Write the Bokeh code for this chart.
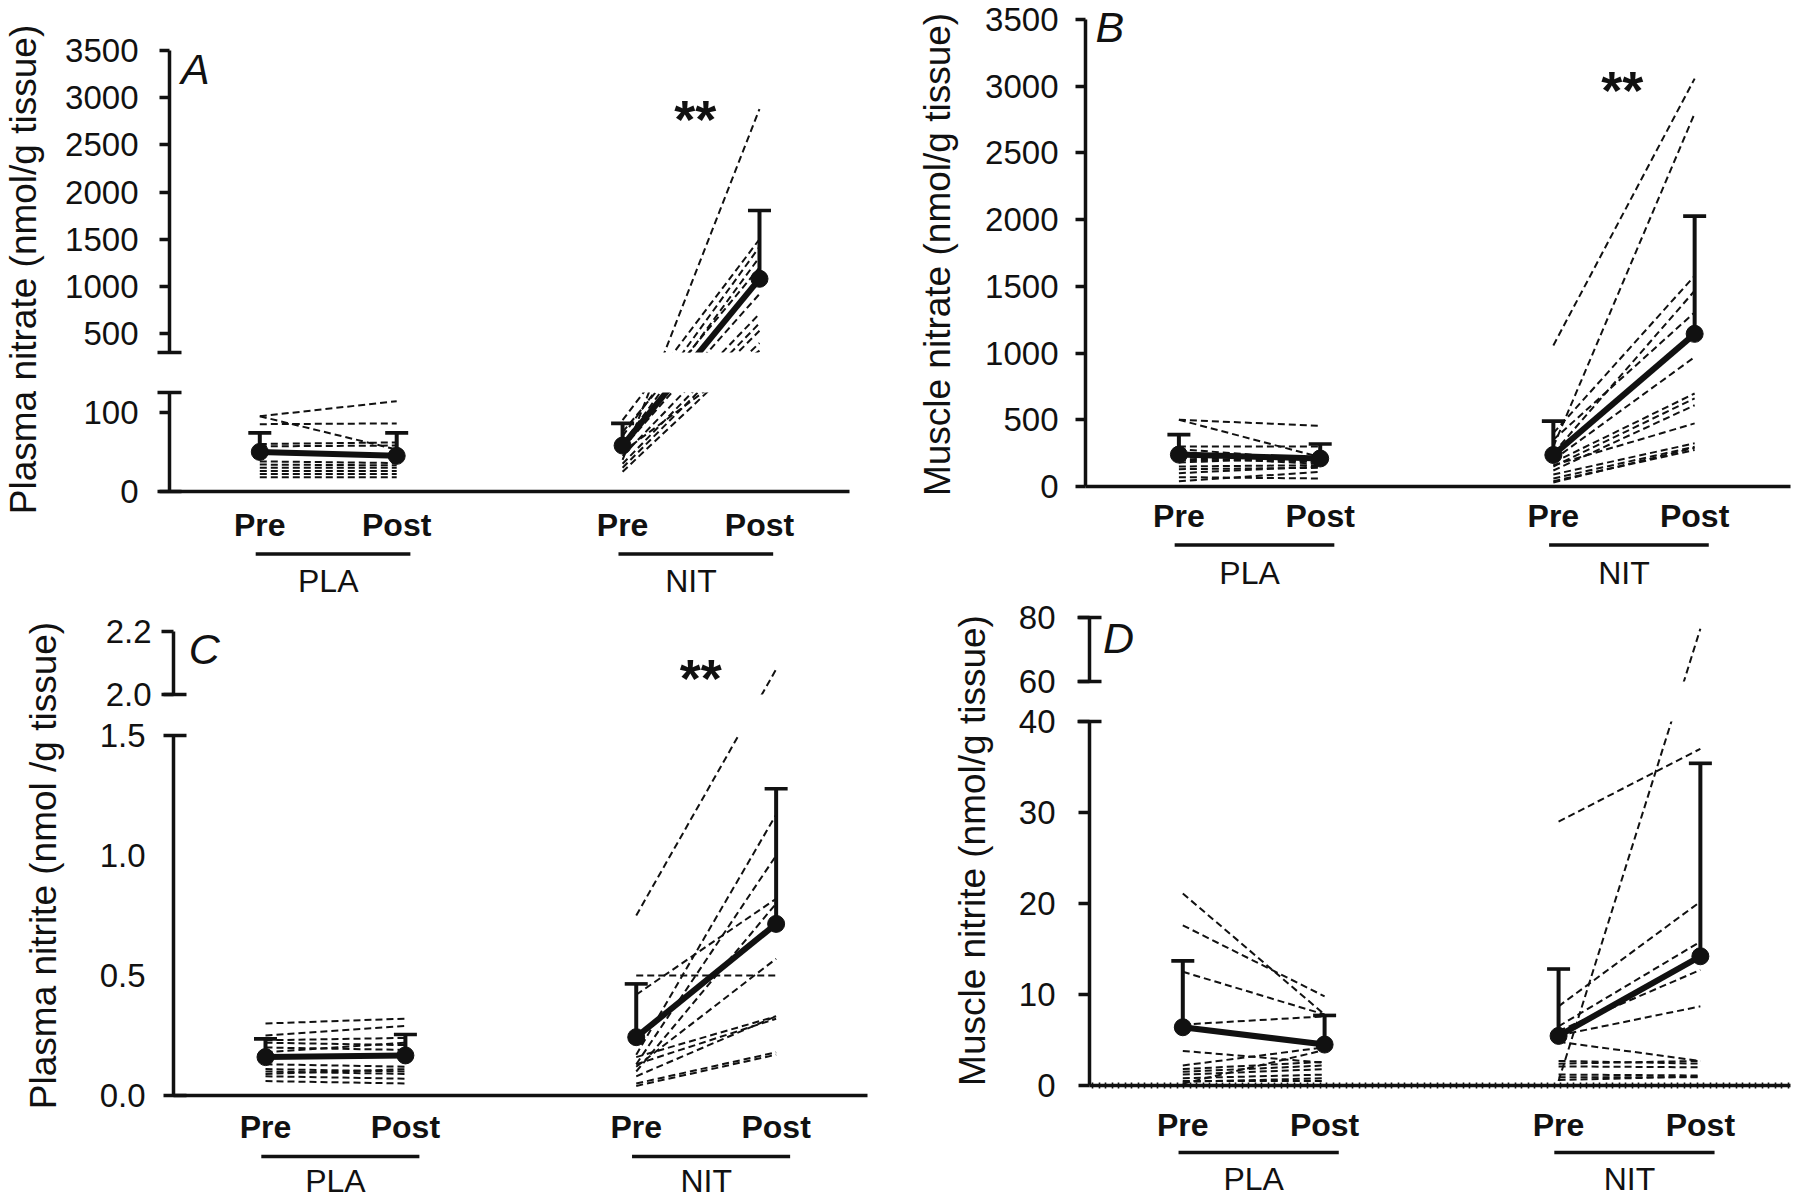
import math
import numpy as np
from bokeh.plotting import figure
from bokeh.layouts import row, column
from bokeh.models import Range1d, FixedTicker, NumeralTickFormatter, CustomJSTickFormatter
from bokeh.core.properties import value
from bokeh.embed import file_html
from bokeh.resources import INLINE

# ---------------- data ----------------
X_POS = [1.0, 2.0, 3.65, 4.65]
TIME_LABELS = ["Pre", "Post", "Pre", "Post"]
GROUPS = ["PLA", "NIT"]

# A: plasma nitrate
A_PLA_PRE = [95, 95, 85, 60, 57, 38, 34, 30, 26, 22, 18]
A_PLA_POST = [114, 53, 86, 62, 58, 36, 33, 30, 26, 22, 18]
A_PLA_MEAN = [50, 45]
A_PLA_SD = [24, 29]
A_NIT_PRE = [40, 90, 70, 60, 75, 55, 45, 35, 30, 25, 50]
A_NIT_POST = [2880, 1500, 1420, 1310, 1200, 920, 710, 610, 530, 400, 320]
A_NIT_MEAN = [58, 1081]
A_NIT_SD = [28, 723]

# B: muscle nitrate
B_PLA_PRE = [500, 500, 300, 280, 250, 220, 200, 180, 150, 130, 100, 70, 40]
B_PLA_POST = [455, 220, 300, 200, 180, 170, 190, 220, 160, 140, 150, 60, 110]
B_PLA_MEAN = [239, 210]
B_PLA_SD = [150, 108]
B_NIT_PRE = [1057, 300, 400, 250, 350, 200, 180, 150, 120, 160, 90, 60, 40, 30]
B_NIT_POST = [3057, 2796, 1579, 1467, 1305, 970, 697, 660, 609, 473, 324, 298, 274, 290]
B_NIT_MEAN = [236, 1144]
B_NIT_SD = [254, 882]

# C: plasma nitrite
C_PLA_PRE = [0.30, 0.25, 0.23, 0.22, 0.20, 0.18, 0.13, 0.11, 0.10, 0.08, 0.06, 0.09]
C_PLA_POST = [0.32, 0.29, 0.24, 0.21, 0.19, 0.22, 0.12, 0.10, 0.09, 0.07, 0.05, 0.11]
C_PLA_MEAN = [0.16, 0.167]
C_PLA_SD = [0.076, 0.087]
C_NIT_PRE = [0.75, 0.17, 0.13, 0.42, 0.10, 0.50, 0.12, 0.16, 0.13, 0.05, 0.04, 0.08]
C_NIT_POST = [2.08, 1.17, 1.00, 0.82, 0.80, 0.50, 0.57, 0.33, 0.32, 0.18, 0.17, 0.33]
C_NIT_MEAN = [0.243, 0.715]
C_NIT_SD = [0.222, 0.563]

# D: muscle nitrite
D_PLA_PRE = [21.1, 17.6, 12.5, 6.7, 3.8, 2.2, 1.8, 1.5, 1.2, 0.8, 0.4, 0.2, 0.5]
D_PLA_POST = [7.8, 9.8, 7.8, 7.6, 2.5, 4.2, 2.6, 2.2, 1.8, 1.2, 0.8, 3.9, 0.5]
D_PLA_MEAN = [6.4, 4.5]
D_PLA_SD = [7.3, 3.2]
D_NIT_PRE = [29.0, 0.5, 8.7, 6.5, 6.0, 5.5, 4.8, 2.7, 2.4, 2.1, 1.2, 0.6, 0.9]
D_NIT_POST = [37.0, 76.5, 20.2, 15.8, 12.7, 8.7, 2.7, 2.4, 2.7, 2.0, 1.1, 1.0, 0.9]
D_NIT_MEAN = [5.45, 14.2]
D_NIT_SD = [7.35, 21.2]

FONT = "Liberation Sans"
INK = "#111111"


def page_y(v, segs):
    ss = sorted(segs, key=lambda s: s["lo"])

    def lin(s, val):
        return s["ybot"] - (val - s["lo"]) / (s["hi"] - s["lo"]) * (s["ybot"] - s["ytop"])

    if v <= ss[0]["hi"]:
        return lin(ss[0], v)
    for a, b in zip(ss[:-1], ss[1:]):
        if v < b["lo"]:
            f = (v - a["hi"]) / (b["lo"] - a["hi"])
            return a["ytop"] + f * (b["ybot"] - a["ytop"])
        if v <= b["hi"]:
            return lin(b, v)
    return lin(ss[-1], v)


def to_seg(v, seg, segs):
    y = page_y(v, segs)
    return seg["lo"] + (seg["ybot"] - y) / (seg["ybot"] - seg["ytop"]) * (seg["hi"] - seg["lo"])


def base_fig(**kw):
    p = figure(output_backend="svg", toolbar_location=None, **kw)
    p.outline_line_color = None
    p.background_fill_color = "white"
    p.border_fill_color = "white"
    p.grid.visible = False
    return p


def build_panel(P):
    x0, y0, y1, w, tw = P["x0"], P["y0"], P["y1"], P["w"], P["tw"]
    fw = w - tw
    mbl = P["axis_x"] - (x0 + tw)
    frame_w = P["frame_right"] - P["axis_x"]
    mbr = fw - mbl - frame_w
    u, X0 = P["u"], P["X0"]
    xr = Range1d(1 - (X0 - P["axis_x"]) / u, 1 + (P["frame_right"] - X0) / u)
    segs = P["segs"]
    groups = [(P["pla_pre"], P["pla_post"], P["pla_mean"], P["pla_sd"]),
              (P["nit_pre"], P["nit_post"], P["nit_mean"], P["nit_sd"])]
    figs = []
    prev_bottom = y0
    for i, s in enumerate(segs):
        last = i == len(segs) - 1
        ftop = s.get("frame_top", s["ytop"])
        top_b = ftop - prev_bottom
        bot_b = P["label_area"] if last else (segs[i + 1]["ytop"] - s["ybot"]) // 2
        fh = s["ybot"] - ftop
        h = top_b + fh + bot_b
        prev_bottom += h
        y_end = s["lo"] + (s["ybot"] - ftop) / (s["ybot"] - s["ytop"]) * (s["hi"] - s["lo"])
        p = base_fig(width=fw, height=h, x_range=xr, y_range=Range1d(s["lo"], y_end),
                     min_border_left=mbl, min_border_right=mbr,
                     min_border_top=top_b, min_border_bottom=bot_b,
                     x_axis_type="linear" if last else None)
        ya = p.yaxis[0]
        ya.bounds = (s["lo"], s["hi"])
        ya.ticker = FixedTicker(ticks=s["major"], minor_ticks=s["minor"])
        ya.formatter = NumeralTickFormatter(format=P["fmt"])
        ya.axis_line_width = 3.5
        ya.axis_line_color = INK
        ya.major_tick_in = 0
        ya.major_tick_out = s["mout"]
        ya.major_tick_line_width = 3.5
        ya.major_tick_line_color = INK
        ya.minor_tick_in = s["nin"]
        ya.minor_tick_out = s["nout"]
        ya.minor_tick_line_width = 3.5
        ya.minor_tick_line_color = INK
        ya.major_label_standoff = s["gap"] - s["mout"]
        ya.major_label_text_font = FONT
        ya.major_label_text_font_size = "33px"
        ya.major_label_text_color = INK
        if last:
            xa = p.xaxis[0]
            dots = []
            if P["dotted"]:
                dots = list(np.arange(xr.start + 3 / u, xr.end, 6.5 / u))
            xa.ticker = FixedTicker(ticks=X_POS, minor_ticks=dots)
            xa.formatter = CustomJSTickFormatter(
                args=dict(pos=X_POS, labs=TIME_LABELS),
                code="const i = pos.findIndex((q) => Math.abs(q - tick) < 1e-6); return i >= 0 ? labs[i] : '';")
            xa.axis_line_width = 3.4
            xa.axis_line_color = INK
            xa.major_tick_in = 0
            xa.major_tick_out = 0
            xa.minor_tick_in = 3
            xa.minor_tick_out = 3
            xa.minor_tick_line_width = 1.6
            xa.minor_tick_line_color = INK
            xa.major_label_standoff = P["xstand"]
            xa.major_label_text_font = FONT
            xa.major_label_text_font_size = "32px"
            xa.major_label_text_font_style = "bold"
            xa.major_label_text_color = INK
        # individual subjects
        for g, (pre, post, mean, sd) in enumerate(groups):
            xa_, xb_ = X_POS[2 * g], X_POS[2 * g + 1]
            xs = [[xa_, xb_] for _ in pre]
            ys = [[to_seg(a, s, segs), to_seg(b, s, segs)] for a, b in zip(pre, post)]
            p.multi_line(xs, ys, line_color=INK, line_width=2.0, line_dash="7 4")
        # group means with SD bars
        for g, (pre, post, mean, sd) in enumerate(groups):
            xx = [X_POS[2 * g], X_POS[2 * g + 1]]
            my = [to_seg(m, s, segs) for m in mean]
            ty = [to_seg(m + d, s, segs) for m, d in zip(mean, sd)]
            p.line(xx, my, line_color=INK, line_width=6)
            p.segment(x0=xx, y0=my, x1=xx, y1=ty, line_color=INK, line_width=4)
            p.scatter(xx, ty, marker="dash", size=23, line_color=INK, line_width=3.6)
            p.scatter(xx, my, marker="circle", size=17, fill_color=INK, line_color=INK)
        if i == 0:
            lt, lx, ly = P["letter"]
            p.text(x=[lx], y=[ly], text=[lt], text_font=value(FONT), text_font_style="italic",
                   text_font_size="43px", text_align="center", text_baseline="middle", text_color=INK)
            if P["stars"] is not None:
                sx, sy = P["stars"]
                p.text(x=[sx], y=[sy], text=["**"], text_font=value(FONT), text_font_style="bold",
                       text_font_size="54px", text_align="center", text_baseline="middle", text_color=INK)
        figs.append(p)

    # group strip: underlines + group names
    axis_y = segs[-1]["ybot"]
    st_top = axis_y + P["label_area"]
    sh = y1 - st_top
    ps = base_fig(width=fw, height=sh, x_range=xr, y_range=Range1d(0, sh),
                  min_border_left=mbl, min_border_right=mbr, min_border_top=0, min_border_bottom=0,
                  x_axis_type=None, y_axis_type=None)
    uy = y1 - (axis_y + P["ul_dy"])
    gy = y1 - (axis_y + P["gl_dy"])
    ux0 = [X_POS[0] - 0.03, X_POS[2] - 0.03]
    ux1 = [X_POS[1] + 0.10, X_POS[3] + 0.10]
    ps.segment(x0=ux0, y0=[uy, uy], x1=ux1, y1=[uy, uy], line_color=INK, line_width=3.4)
    gx = [(X_POS[0] + X_POS[1]) / 2, (X_POS[2] + X_POS[3]) / 2]
    ps.text(x=gx, y=[gy, gy], text=GROUPS,
            text_font=value(FONT), text_font_size="32px", text_align="center",
            text_baseline="middle", text_color=INK)
    figs.append(ps)

    # y-axis title
    H = y1 - y0
    pt = base_fig(width=tw, height=H, x_range=Range1d(0, tw), y_range=Range1d(0, H),
                  min_border=0, x_axis_type=None, y_axis_type=None)
    pt.text(x=[P["tcx"] - x0], y=[y1 - P["tcy"]], text=[P["title"]], angle=math.pi / 2,
            text_font=value(FONT), text_font_size="37px", text_align="center",
            text_baseline="middle", text_color=INK)
    return row(pt, column(*figs, spacing=0), spacing=0)


PA = dict(x0=0, y0=0, y1=600, w=900, tw=50, axis_x=169, frame_right=849, X0=259.3, u=136.9,
          segs=[dict(lo=300, hi=3500, ytop=50, ybot=352, major=[500, 1000, 1500, 2000, 2500, 3000, 3500],
                     minor=[300], mout=10, nin=12, nout=12, gap=29),
                dict(lo=0, hi=125, ytop=392, ybot=491, major=[0, 100], minor=[0, 125],
                     mout=10, nin=12, nout=12, gap=29)],
          label_area=56, xstand=15, ul_dy=62.5, gl_dy=89,
          title="Plasma nitrate (nmol/g tissue)", tcx=23, tcy=269,
          letter=("A", 0.53, 3304), stars=(4.18, 2779), fmt="0", dotted=False,
          pla_pre=A_PLA_PRE, pla_post=A_PLA_POST, pla_mean=A_PLA_MEAN, pla_sd=A_PLA_SD,
          nit_pre=A_NIT_PRE, nit_post=A_NIT_POST, nit_mean=A_NIT_MEAN, nit_sd=A_NIT_SD)

PB = dict(x0=900, y0=0, y1=597, w=900, tw=60, axis_x=1085, frame_right=1790, X0=1178.4, u=141.3,
          segs=[dict(lo=0, hi=3500, ytop=19, ybot=486, frame_top=4,
                     major=[0, 500, 1000, 1500, 2000, 2500, 3000, 3500], minor=[],
                     mout=10, nin=0, nout=0, gap=27)],
          label_area=52, xstand=11, ul_dy=58.5, gl_dy=86,
          title="Muscle nitrate (nmol/g tissue)", tcx=937, tcy=254,
          letter=("B", 0.512, 3447), stars=(4.137, 2973), fmt="0", dotted=False,
          pla_pre=B_PLA_PRE, pla_post=B_PLA_POST, pla_mean=B_PLA_MEAN, pla_sd=B_PLA_SD,
          nit_pre=B_NIT_PRE, nit_post=B_NIT_POST, nit_mean=B_NIT_MEAN, nit_sd=B_NIT_SD)

PC = dict(x0=0, y0=600, y1=1199, w=900, tw=68, axis_x=173, frame_right=867, X0=265, u=139.9,
          segs=[dict(lo=2.0, hi=2.2, ytop=631, ybot=694, major=[2.0, 2.2], minor=[2.0],
                     mout=12, nin=13, nout=10, gap=22),
                dict(lo=0, hi=1.5, ytop=735, ybot=1095, major=[0, 0.5, 1.0, 1.5], minor=[0, 1.5],
                     mout=0, nin=13, nout=10, gap=18)],
          label_area=54, xstand=13, ul_dy=61, gl_dy=85,
          title="Plasma nitrite (nmol /g tissue)", tcx=43, tcy=865,
          letter=("C", 0.5626, 2.146), stars=(4.111, 2.051), fmt="0.0", dotted=False,
          pla_pre=C_PLA_PRE, pla_post=C_PLA_POST, pla_mean=C_PLA_MEAN, pla_sd=C_PLA_SD,
          nit_pre=C_NIT_PRE, nit_post=C_NIT_POST, nit_mean=C_NIT_MEAN, nit_sd=C_NIT_SD)

PD = dict(x0=900, y0=597, y1=1199, w=900, tw=95, axis_x=1089, frame_right=1790, X0=1182.3, u=141.8,
          segs=[dict(lo=60, hi=80, ytop=617, ybot=681, major=[60, 80], minor=[60, 80],
                     mout=11, nin=12, nout=12, gap=33),
                dict(lo=0, hi=40, ytop=721, ybot=1087, major=[0, 10, 20, 30, 40], minor=[40],
                     mout=11, nin=12, nout=12, gap=33)],
          label_area=58, xstand=18, ul_dy=65, gl_dy=91,
          title="Muscle nitrite (nmol/g tissue)", tcx=972, tcy=850,
          letter=("D", 0.547, 73.75), stars=None, fmt="0", dotted=True,
          pla_pre=D_PLA_PRE, pla_post=D_PLA_POST, pla_mean=D_PLA_MEAN, pla_sd=D_PLA_SD,
          nit_pre=D_NIT_PRE, nit_post=D_NIT_POST, nit_mean=D_NIT_MEAN, nit_sd=D_NIT_SD)

page = row(column(build_panel(PA), build_panel(PC), spacing=0),
           column(build_panel(PB), build_panel(PD), spacing=0), spacing=0)

open("out.html", "w").write(file_html(page, INLINE))
